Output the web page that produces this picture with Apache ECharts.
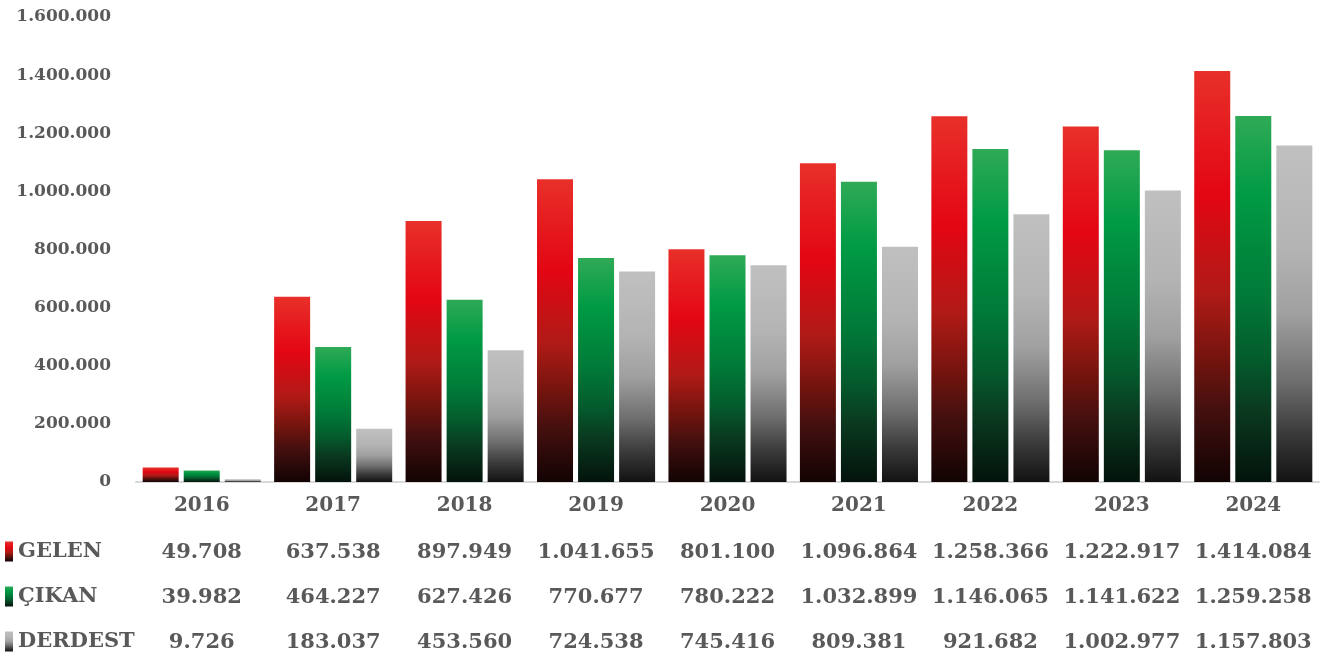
<!DOCTYPE html>
<html><head><meta charset="utf-8">
<script src="https://cdn.jsdelivr.net/npm/echarts@6/dist/echarts.min.js"></script>
<style>html,body{margin:0;padding:0;background:#fff}#c{width:1320px;height:660px}</style>
</head><body><div id="c"></div>
<script>
const years = ['2016','2017','2018','2019','2020','2021','2022','2023','2024'];
const seriesNames = ['GELEN','ÇIKAN','DERDEST'];
const gelen = [49708,637538,897949,1041655,801100,1096864,1258366,1222917,1414084];
const cikan = [39982,464227,627426,770677,780222,1032899,1146065,1141622,1259258];
const derdest = [9726,183037,453560,724538,745416,809381,921682,1002977,1157803];
const yTicks = [0,200000,400000,600000,800000,1000000,1200000,1400000,1600000];

const allData = [gelen,cikan,derdest];
const fmt = v => String(v).replace(/\B(?=(\d{3})+(?!\d))/g,'.');
const FONT = 'DejaVu Serif';
const TXT = '#595959';
function grad(stops){return {type:'linear',x:0,y:0,x2:0,y2:1,colorStops:stops.map(s=>({offset:s[0],color:s[1]}))};}
const colors = [
  grad([[0,'#e8302a'],[0.3,'#e30613'],[0.54,'#b01a16'],[0.7,'#74140e'],[0.82,'#45100f'],[1,'#120303']]),
  grad([[0,'#2faa56'],[0.22,'#009a44'],[0.49,'#007a38'],[0.67,'#045a2c'],[0.8,'#0a3a20'],[1,'#03130b']]),
  grad([[0,'#c0c0c0'],[0.3,'#b4b4b4'],[0.5,'#a0a0a0'],[0.7,'#6e6e6e'],[0.85,'#3c3c3c'],[1,'#121212']])
];
const rowMargins = [60,105,150];
const xAxes = [{
  type:'category', data:years, gridIndex:0,
  axisLine:{show:true,lineStyle:{color:'#d9d9d9',width:2}},
  axisTick:{show:false},
  axisLabel:{interval:0,margin:14,fontFamily:FONT,fontWeight:'bold',fontSize:20,color:TXT}
}];
allData.forEach((arr,i)=>{
  xAxes.push({
    type:'category', data:years, gridIndex:0, position:'bottom',
    axisLine:{show:false}, axisTick:{show:false}, splitLine:{show:false},
    axisLabel:{interval:0,hideOverlap:false,margin:rowMargins[i],fontFamily:FONT,fontWeight:'bold',fontSize:21,color:TXT,
      formatter:(val,idx)=>fmt(arr[idx])}
  });
});
const chart = echarts.init(document.getElementById('c'));
chart.setOption({
  animation:false,
  grid:{left:136,right:1,top:17,bottom:178,containLabel:false},
  legend:{
    orient:'vertical', left:0, top:536, itemWidth:8, itemHeight:20, itemGap:24,
    selectedMode:false,
    data:seriesNames.map((n,i)=>({name:n,icon:'rect',itemStyle:{color:colors[i]}})),
    textStyle:{fontFamily:FONT,fontWeight:'bold',fontSize:21,color:TXT,lineHeight:21}
  },
  xAxis:xAxes,
  yAxis:{
    type:'value', min:yTicks[0], max:yTicks[yTicks.length-1], interval:200000,
    axisLine:{show:false}, axisTick:{show:false}, splitLine:{show:false},
    axisLabel:{margin:25,fontFamily:FONT,fontWeight:'bold',fontSize:17,color:TXT,formatter:v=>fmt(v)}
  },
  series:allData.map((arr,i)=>({
    name:seriesNames[i], type:'bar', xAxisIndex:0, data:arr,
    barWidth:36, barGap:'14%',
    itemStyle:{color:colors[i]}
  }))
});
</script></body></html>
